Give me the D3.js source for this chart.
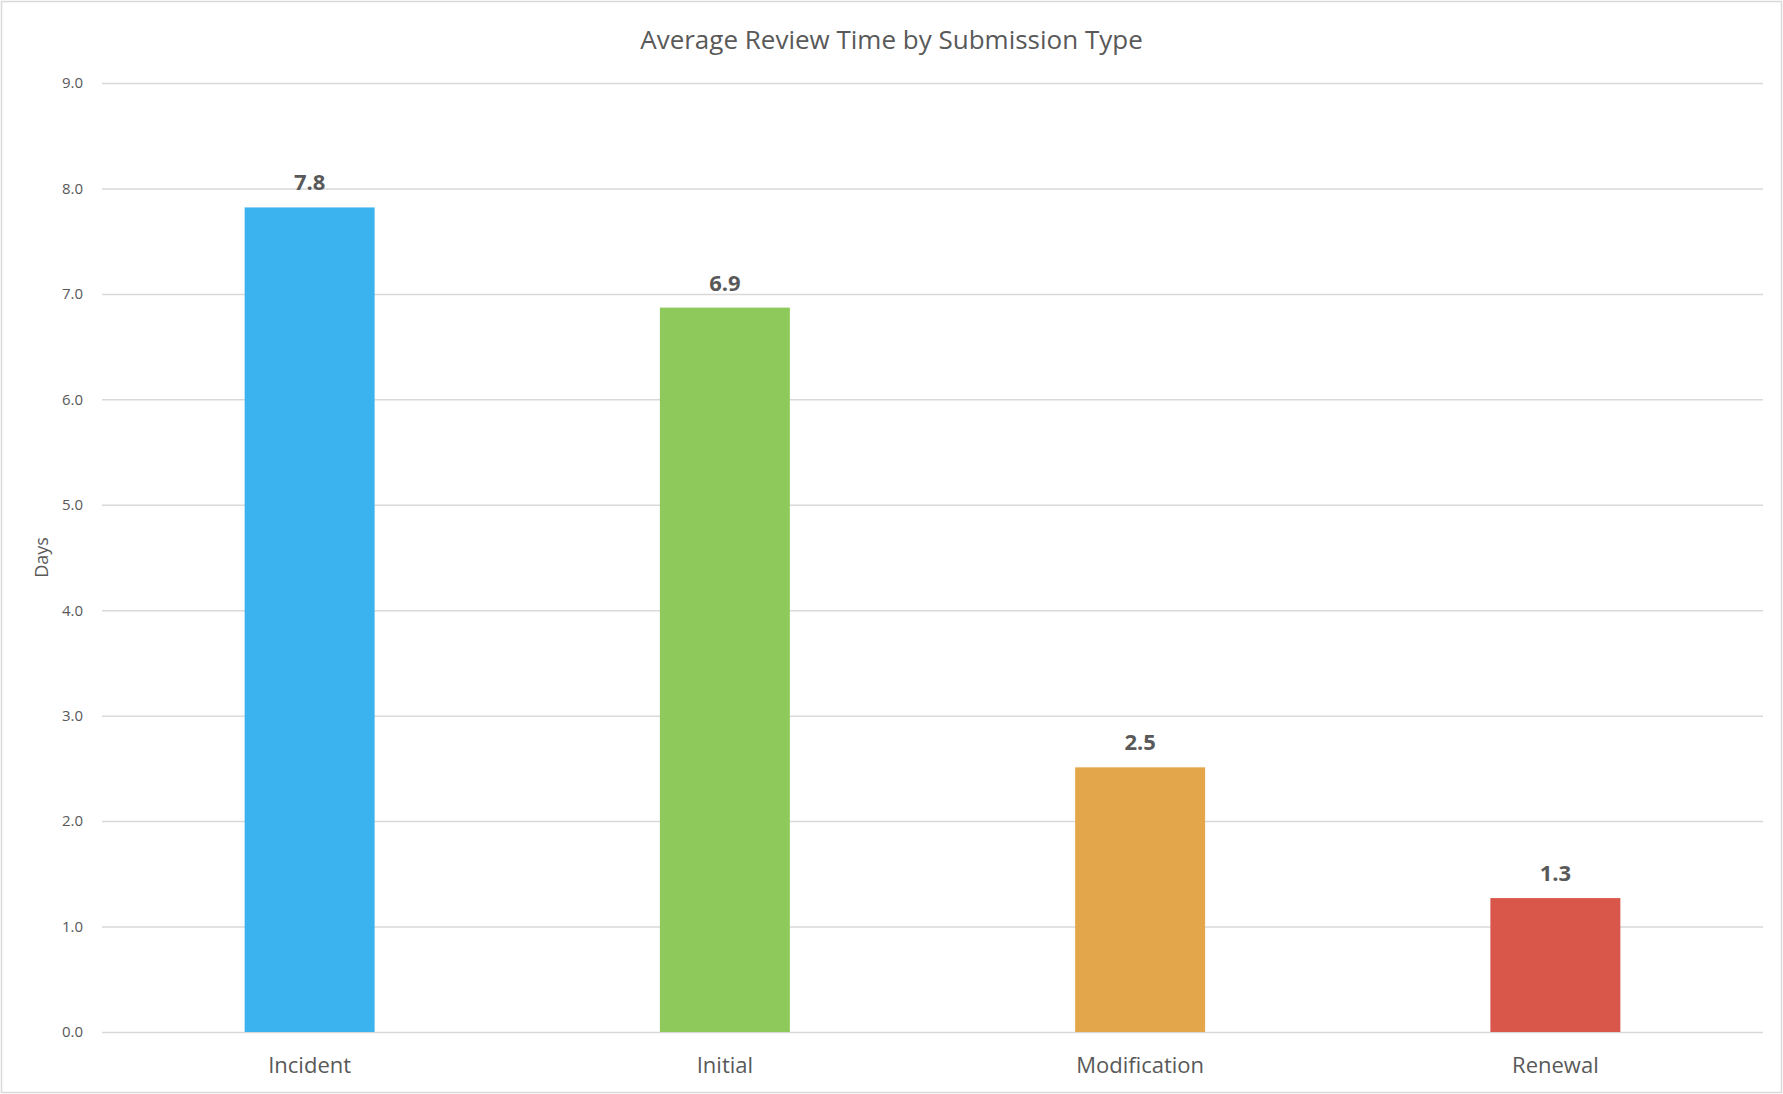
<!DOCTYPE html>
<html>
<head>
<meta charset="utf-8">
<script src="https://cdn.jsdelivr.net/npm/d3@7"></script>
<style>
  html, body { margin: 0; padding: 0; background: #ffffff; }
  svg { display: block; }
</style>
</head>
<body>
<svg id="chart" width="1783" height="1094"></svg>
<script>
const categories = ["Incident", "Initial", "Modification", "Renewal"];
const values = [7.82, 6.87, 2.51, 1.27];
const colors = ["#3BB3EE", "#8DC95B", "#E4A64A", "#D9564A"];
const yTicks = [0, 1, 2, 3, 4, 5, 6, 7, 8, 9];
const title = "Average Review Time by Submission Type";
const yTitle = "Days";

const W = 1783, H = 1094;
const margin = { left: 102, right: 20, top: 83, bottom: 62 };
const svg = d3.select("#chart");
const font = "'Open Sans', 'Noto Sans', sans-serif";
const textColor = "#595959";

svg.append("rect")
  .attr("x", 1.5).attr("y", 1.5)
  .attr("width", W - 3).attr("height", H - 3)
  .attr("fill", "#fff").attr("stroke", "#D9D9D9").attr("stroke-width", 1.5);

const x = d3.scaleBand()
  .domain(categories)
  .range([margin.left, W - margin.right])
  .paddingInner(0.687).paddingOuter(0.3435);

const y = d3.scaleLinear()
  .domain([0, 9])
  .range([H - margin.bottom, margin.top]);

// gridlines + y axis
const yAxis = d3.axisLeft(y)
  .tickValues(yTicks)
  .tickFormat(d3.format(".1f"))
  .tickSize(-(W - margin.right - margin.left))
  .tickPadding(19);

const gy = svg.append("g")
  .attr("transform", `translate(${margin.left},0)`)
  .call(yAxis);
gy.select(".domain").remove();
gy.selectAll(".tick line").attr("stroke", "#D9D9D9").attr("stroke-width", 1.5);
gy.selectAll(".tick text")
  .attr("fill", textColor)
  .style("font-family", font)
  .style("font-size", "15px");

// bars
svg.append("g").selectAll("rect")
  .data(categories)
  .join("rect")
  .attr("x", d => x(d))
  .attr("width", x.bandwidth())
  .attr("y", (d, i) => y(values[i]))
  .attr("height", (d, i) => y(0) - y(values[i]))
  .attr("fill", (d, i) => colors[i]);

// value labels
svg.append("g").selectAll("text")
  .data(categories)
  .join("text")
  .attr("x", d => x(d) + x.bandwidth() / 2)
  .attr("y", (d, i) => y(values[i]) - 17)
  .attr("text-anchor", "middle")
  .attr("fill", textColor)
  .style("font-family", font)
  .style("font-size", "22px")
  .style("font-weight", "bold")
  .text((d, i) => d3.format(".1f")(values[i]));

// x axis labels
const xAxis = d3.axisBottom(x).tickSize(0).tickPadding(0);
const gx = svg.append("g")
  .attr("transform", `translate(0,${y(0)})`)
  .call(xAxis);
gx.select(".domain").remove();
gx.selectAll(".tick text")
  .attr("y", 0)
  .attr("dy", "41px")
  .attr("fill", textColor)
  .style("font-family", font)
  .style("font-size", "22px");

// title
svg.append("text")
  .attr("x", W / 2)
  .attr("y", 49)
  .attr("text-anchor", "middle")
  .attr("fill", textColor)
  .style("font-family", font)
  .style("font-size", "26px")
  .text(title);

// y title
svg.append("text")
  .attr("transform", `translate(48,${(y(0) + y(9)) / 2}) rotate(-90)`)
  .attr("text-anchor", "middle")
  .attr("fill", textColor)
  .style("font-family", font)
  .style("font-size", "18px")
  .text(yTitle);
</script>
</body>
</html>
